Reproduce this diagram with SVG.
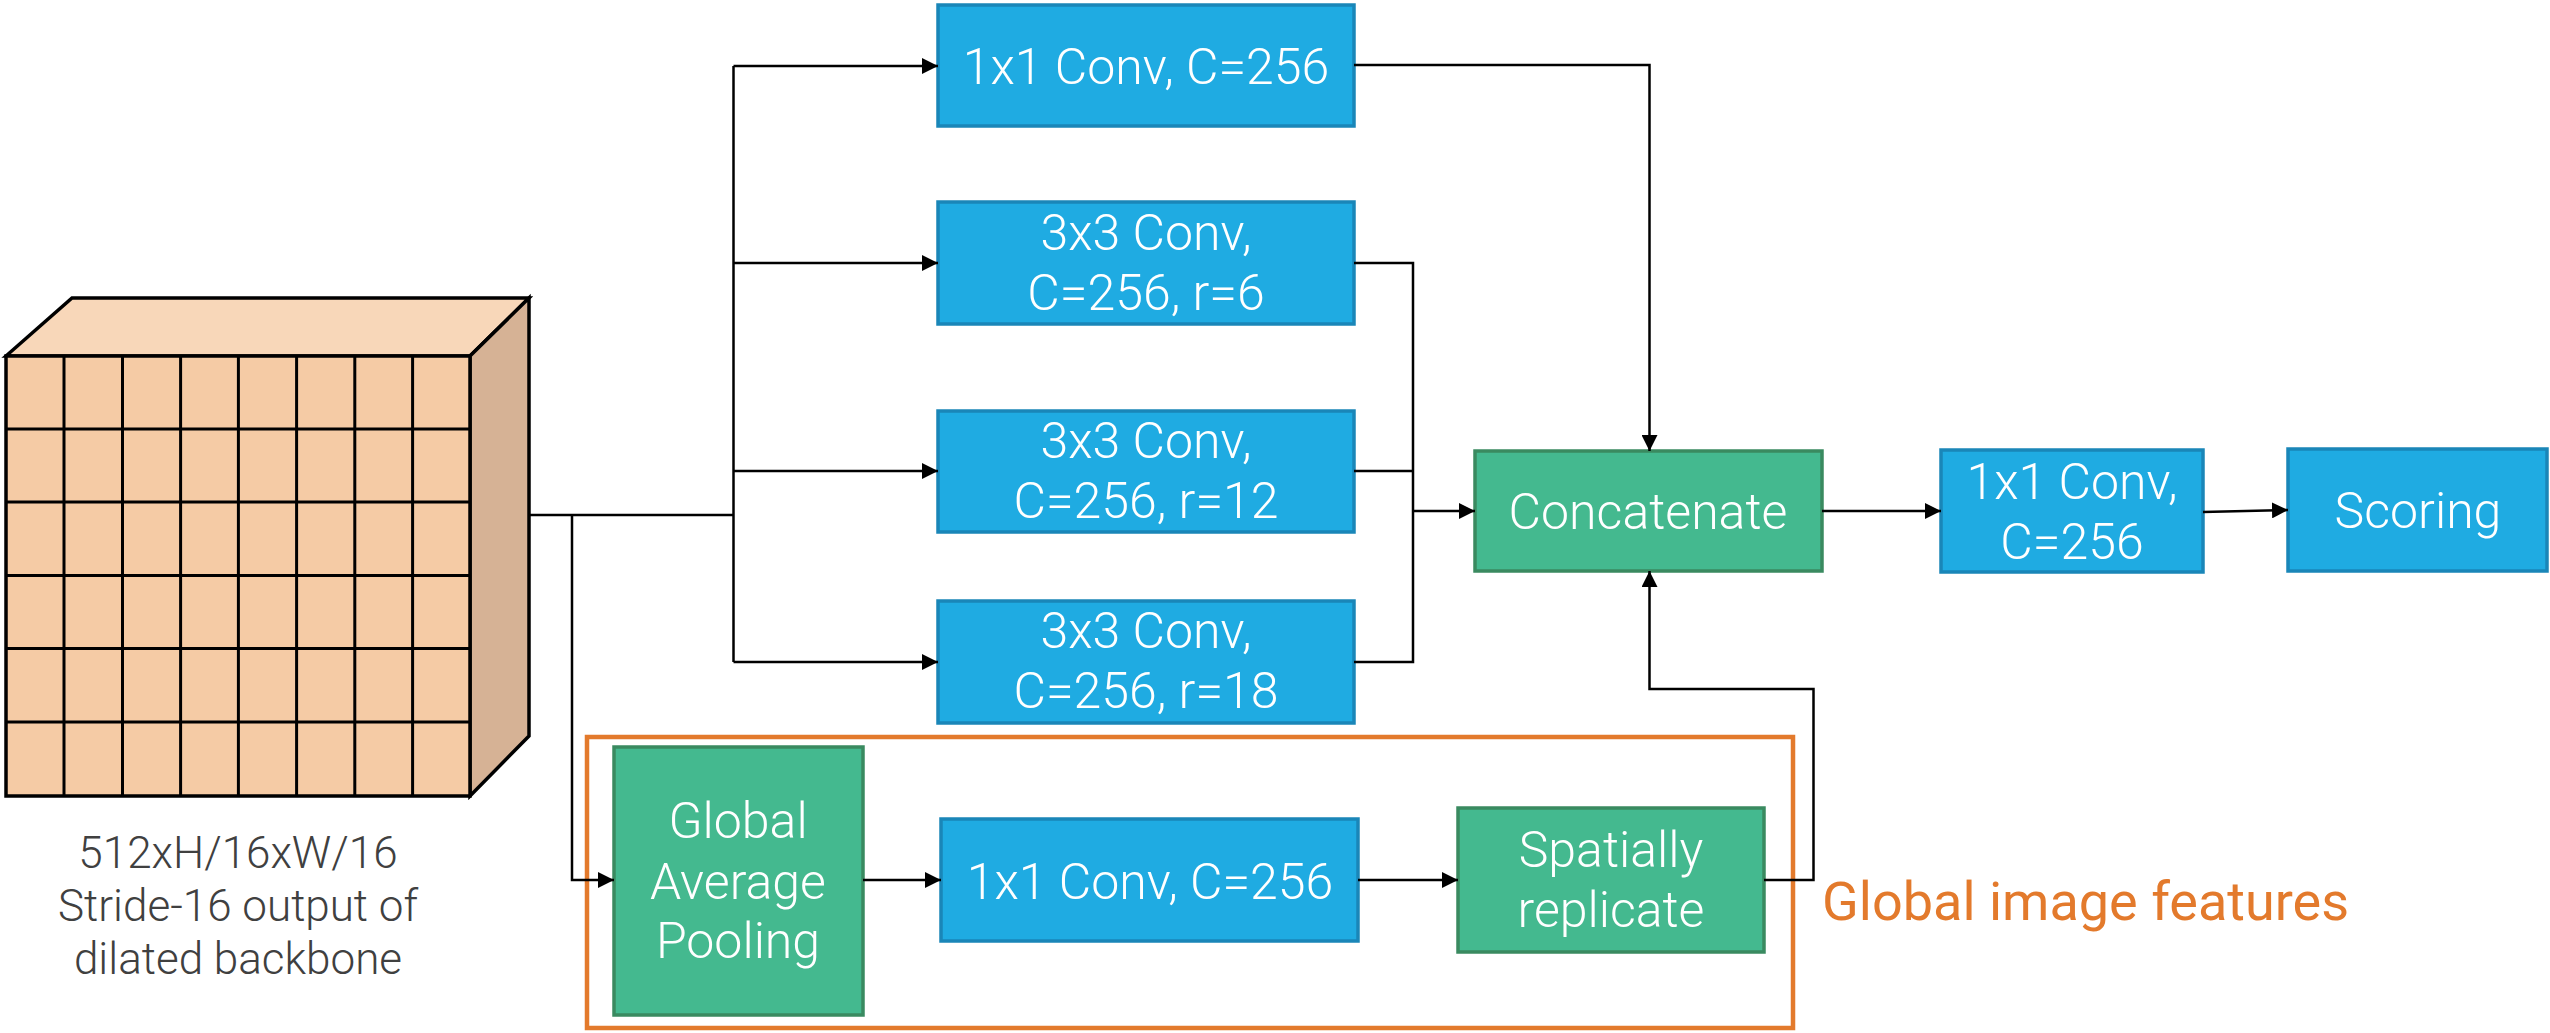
<svg xmlns="http://www.w3.org/2000/svg" width="2550" height="1033" viewBox="0 0 2550 1033">
<defs>
<marker id="ah" markerWidth="16" markerHeight="16" refX="16" refY="8" orient="auto" markerUnits="userSpaceOnUse">
<path d="M0,0 L16,8 L0,16 Z" fill="#000"/>
</marker>
<style>
.blue{fill:#1FABE2;stroke:#1A86B8;stroke-width:3.5}
.green{fill:#44B98F;stroke:#3A8A60;stroke-width:3.5}
.lbl{font-family:Roboto,"Liberation Sans",sans-serif;font-weight:300;font-size:50px;fill:#fff;text-anchor:middle}
.cap{font-family:Roboto,"Liberation Sans",sans-serif;font-weight:300;font-size:44px;fill:#404040;text-anchor:middle}
.conn{fill:none;stroke:#000;stroke-width:2.5}
.grid{stroke:#000;stroke-width:3;fill:none}
</style>
</defs>
<rect width="2550" height="1033" fill="#fff"/>

<g id="backbone">
<polygon points="6,356 72,298 529,298 470,356" fill="#F8D7B9" stroke="#000" stroke-width="3.5" stroke-linejoin="miter"/>
<polygon points="470,356 529,298 529,736 470,796" fill="#D6B295" stroke="#000" stroke-width="3.5"/>
<rect x="6" y="356" width="464" height="440" fill="#F5CBA5" stroke="#000" stroke-width="3.5"/>
<path class="grid" d="M64,356V796M122.5,356V796M180.6,356V796M238.4,356V796M296.6,356V796M354.8,356V796M412.6,356V796M6,429H470M6,502H470M6,575.5H470M6,648.5H470M6,722H470"/>
<text class="cap" x="238" y="868">512xH/16xW/16</text>
<text class="cap" x="238" y="921">Stride-16 output of</text>
<text class="cap" x="238" y="974">dilated backbone</text>
</g>

<g id="global-box">
<rect x="587" y="737" width="1206" height="291" fill="none" stroke="#E37A2C" stroke-width="4.5"/>
<text x="1822" y="920" font-family="Roboto,'Liberation Sans',sans-serif" font-size="54" fill="#E37A2C">Global image features</text>
</g>

<g id="conv1x1">
<rect class="blue" x="938" y="5" width="416" height="121"/>
<text class="lbl" x="1146" y="84">1x1 Conv, C=256</text>
</g>
<g id="conv3x3r6">
<rect class="blue" x="938" y="202" width="416" height="122"/>
<text class="lbl" x="1146" y="250">3x3 Conv,</text>
<text class="lbl" x="1146" y="310">C=256, r=6</text>
</g>
<g id="conv3x3r12">
<rect class="blue" x="938" y="411" width="416" height="121"/>
<text class="lbl" x="1146" y="458">3x3 Conv,</text>
<text class="lbl" x="1146" y="518">C=256, r=12</text>
</g>
<g id="conv3x3r18">
<rect class="blue" x="938" y="601" width="416" height="122"/>
<text class="lbl" x="1146" y="648">3x3 Conv,</text>
<text class="lbl" x="1146" y="708">C=256, r=18</text>
</g>
<g id="concat">
<rect class="green" x="1475" y="451" width="347" height="120"/>
<text class="lbl" x="1648" y="529">Concatenate</text>
</g>
<g id="conv-final">
<rect class="blue" x="1941" y="450" width="262" height="122"/>
<text class="lbl" x="2072" y="499">1x1 Conv,</text>
<text class="lbl" x="2072" y="559">C=256</text>
</g>
<g id="scoring">
<rect class="blue" x="2288" y="449" width="259" height="122"/>
<text class="lbl" x="2418" y="528">Scoring</text>
</g>
<g id="gap">
<rect class="green" x="614" y="747" width="249" height="268"/>
<text class="lbl" x="738" y="838">Global</text>
<text class="lbl" x="738" y="899">Average</text>
<text class="lbl" x="738" y="958">Pooling</text>
</g>
<g id="conv-gap">
<rect class="blue" x="941" y="819" width="417" height="122"/>
<text class="lbl" x="1150" y="899">1x1 Conv, C=256</text>
</g>
<g id="replicate">
<rect class="green" x="1458" y="808" width="306" height="144"/>
<text class="lbl" x="1611" y="867">Spatially</text>
<text class="lbl" x="1611" y="927">replicate</text>
</g>

<g id="connectors">
<path class="conn" d="M529,515H733.5" stroke-width="3.5"/>
<path class="conn" d="M733.5,66V662" stroke-width="3"/>
<path class="conn" d="M733.5,66H938" marker-end="url(#ah)"/>
<path class="conn" d="M733.5,263H938" marker-end="url(#ah)"/>
<path class="conn" d="M733.5,471H938" marker-end="url(#ah)"/>
<path class="conn" d="M733.5,662H938" marker-end="url(#ah)"/>
<path class="conn" d="M572,515V880H614" marker-end="url(#ah)"/>
<path class="conn" d="M1354,65H1649.5V451" marker-end="url(#ah)"/>
<path class="conn" d="M1354,263H1413V511"/>
<path class="conn" d="M1354,471H1413"/>
<path class="conn" d="M1354,662H1413V511"/>
<path class="conn" d="M1413,511H1475" stroke-width="3.5" marker-end="url(#ah)"/>
<path class="conn" d="M1822,511H1941" marker-end="url(#ah)"/>
<path class="conn" d="M2203,512L2288,510" marker-end="url(#ah)"/>
<path class="conn" d="M863,880H941" marker-end="url(#ah)"/>
<path class="conn" d="M1358,880H1458" marker-end="url(#ah)"/>
<path class="conn" d="M1764,880H1813.5V689H1649.5V571" marker-end="url(#ah)"/>
</g>
</svg>
